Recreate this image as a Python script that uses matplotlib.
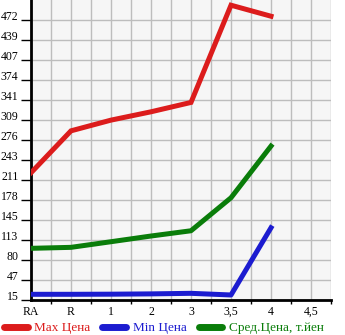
import matplotlib
matplotlib.use("Agg")
import matplotlib.pyplot as plt
from matplotlib.lines import Line2D

# категории (лет) и цены
cats = ["RA", "R", "1", "2", "3", "3,5", "4"]
x_labels = ["RA", "R", "1", "2", "3", "3,5", "4", "4,5"]
max_price = [222.8, 291.3, 308.8, 322.4, 337.7, 496.5, 478.5]
min_price = [24.3, 24.3, 24.5, 25.0, 25.9, 23.2, 133.0]
avg_price = [99.4, 101.0, 110.2, 119.5, 128.1, 182.0, 266.4]
y_ticks = [15, 47.6, 80.3, 112.9, 145.6, 178.2, 210.8, 243.5, 276.1, 308.8,
           341.4, 374.0, 406.7, 439.3, 472.0]
y_labels = ["15", "47", "80", "113", "145", "178", "211", "243", "276", "309",
            "341", "374", "407", "439", "472"]

red = "#dc1c1c"
blue = "#1c1cd0"
green = "#0a7d0a"
font = "Liberation Serif"

fig = plt.figure(figsize=(3.45, 3.35), dpi=100)
ax = fig.add_axes([31 / 345, 35 / 335, 300 / 345, 300 / 335])
ax.set_facecolor("#f6f6f6")

xs = range(len(cats))
lw = 3.6
ax.plot(xs, max_price, color=red, lw=lw, solid_joinstyle="miter", zorder=3)
ax.plot(xs, min_price, color=blue, lw=lw, zorder=3)
ax.plot(xs, avg_price, color=green, lw=lw, zorder=3)

ax.set_xlim(0, 7.5)
ax.set_ylim(15, 505)

ax.set_xticks(range(len(x_labels)))
ax.set_xticklabels(x_labels, fontfamily=font, fontsize=8.5)
ax.set_xticks([i + 0.5 for i in range(8)], minor=True)
ax.tick_params(axis="x", which="major", length=0, pad=4)
ax.tick_params(axis="x", which="minor", length=3, width=1, color="black")

ax.set_yticks(y_ticks)
ax.set_yticklabels(y_labels, fontfamily=font, fontsize=8.5)
for lab in ax.get_yticklabels():
    lab.set_verticalalignment("baseline")
ax.tick_params(axis="y", length=7, width=1, pad=2)

# сетка через каждые 20 px
ax.set_yticks([15 + 32.64 * (i + 0.5) for i in range(15)], minor=True)
ax.grid(True, which="major", axis="y", color="#bdbdbd", lw=1)
ax.grid(True, which="both", axis="x", color="#bdbdbd", lw=1)
ax.tick_params(axis="y", which="minor", length=0)
ax.set_axisbelow(True)

for s in ["top", "right"]:
    ax.spines[s].set_visible(False)
ax.spines["left"].set_linewidth(2)
ax.spines["bottom"].set_linewidth(2)

handles = [Line2D([], [], color=c, lw=5, solid_capstyle="round") for c in (red, blue, green)]
leg = fig.legend(handles, ["Max Цена", "Min Цена", "Сред.Цена, т.йен"],
                 loc="center", bbox_to_anchor=(0.475, 7 / 335), ncol=3, frameon=False,
                 prop={"family": font, "size": 9.5}, handlelength=1.8,
                 handletextpad=0.5, columnspacing=0.9, labelcolor="linecolor",
                 borderpad=0)

fig.savefig("out.png", dpi=100)
